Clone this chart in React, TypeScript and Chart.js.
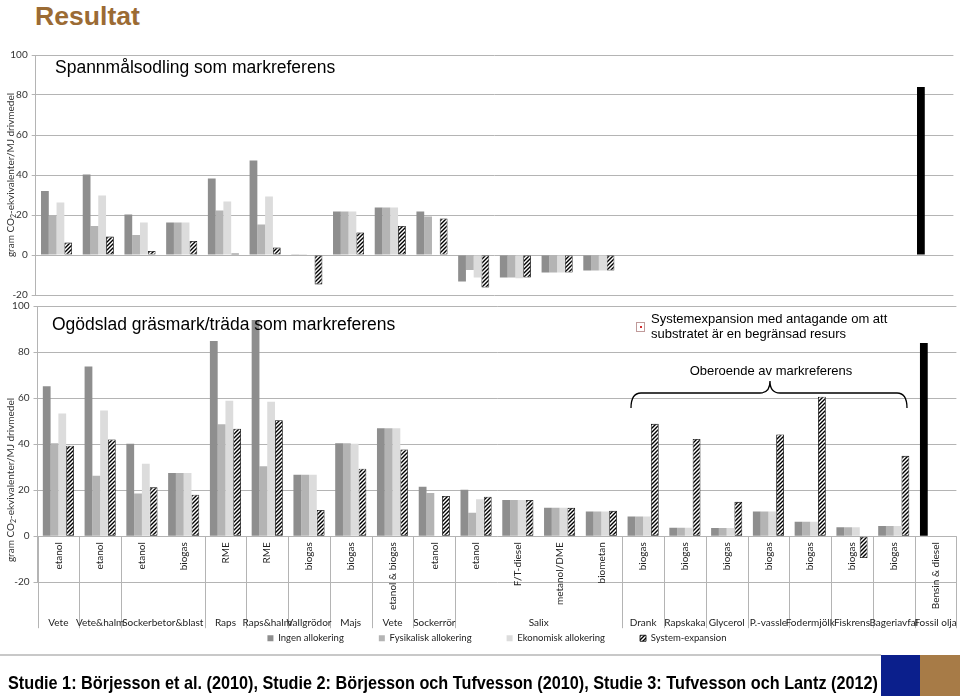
import React, { useEffect, useRef } from "react";
import { Chart, registerables } from "chart.js";

Chart.register(...registerables);

// ---------- data ----------
const fuels = [
  "etanol", "etanol", "etanol", "biogas", "RME", "RME", "biogas", "biogas",
  "etanol & biogas", "etanol", "etanol", "F/T-diesel", "metanol/DME", "biometan",
  "biogas", "biogas", "biogas", "biogas", "biogas", "biogas", "biogas", "Bensin & diesel",
];
const crops = [
  "Vete", "Vete&halm", "Sockerbetor&blast", "Raps", "Raps&halm", "Vallgrödor", "Majs",
  "Vete", "Sockerrör", "Salix", "Drank", "Rapskaka", "Glycerol", "P.-vassle",
  "Fodermjölk", "Fiskrens", "Bageriavfal", "Fossil olja",
];
const cropSpans = [1, 1, 2, 1, 1, 1, 1, 1, 1, 4, 1, 1, 1, 1, 1, 1, 1, 1];
const seriesNames = ["Ingen allokering", "Fysikalisk allokering", "Ekonomisk allokering", "System-expansion"];
const fossilFuel = "Bensin & diesel";
const yTicks = [-20, 0, 20, 40, 60, 80, 100];

// Spannmålsodling som markreferens
const topIngen = [32, 40.3, 20.3, 16.2, 38.3, 47.3, 0.4, 21.7, 23.7, 21.7, -13.3, -11.3, -8.8, -7.8, null, null, null, null, null, null, null, 84];
const topFysikalisk = [20, 14.5, 10, 16.2, 22.2, 15.3, 0.4, 21.7, 23.7, 19.2, -7.5, -11.3, -8.8, -7.8, null, null, null, null, null, null, null, null];
const topEkonomisk = [26.3, 29.7, 16.2, 16.2, 26.7, 29.2, 0.3, 21.7, 23.7, null, -11.3, -11.6, -8.8, -7.8, null, null, null, null, null, null, null, null];
const topSystem = [6.2, 9.2, 2, 7, 0.8, 3.7, -14.7, 11.2, 14.5, 18.3, -16.3, -11.3, -8.8, -7.8, null, null, null, null, null, null, null, null];

// Ogödslad gräsmark/träda som markreferens
const bottomIngen = [65.1, 73.7, 40.1, 27.4, 84.8, 93.9, 26.7, 40.4, 46.9, 21.5, 20.2, 15.7, 12.3, 10.7, 8.5, 3.7, 3.6, 10.7, 6.3, 3.9, 4.4, 83.9];
const bottomFysikalisk = [40.4, 26.3, 18.5, 27.4, 48.6, 30.4, 26.7, 40.4, 46.9, 18.8, 10.2, 15.7, 12.3, 10.7, 8.5, 3.7, 3.6, 10.7, 6.3, 3.9, 4.4, null];
const bottomEkonomisk = [53.3, 54.6, 31.5, 27.4, 58.8, 58.4, 26.7, 40.1, 46.9, null, 16.0, 15.7, 12.3, 10.7, 8.5, 3.7, 3.6, 10.7, 6.3, 3.9, 4.4, null];
const bottomSystem = [39.3, 42.0, 21.2, 18.0, 46.7, 50.4, 11.4, 29.3, 37.7, 17.5, 17.1, 15.7, 12.3, 11.0, 48.8, 42.2, 14.9, 44.2, 60.6, -9.5, 34.9, null];

const footerText = "Studie 1: Börjesson et al. (2010), Studie 2: Börjesson och Tufvesson (2010), Studie 3: Tufvesson och Lantz (2012)";

// ---------- styles ----------
const FONT_UI = 'Lato, "Open Sans", sans-serif';
const FONT_ARIAL = '"Liberation Sans", Arial, sans-serif';
const INGEN_COLOR = "#8e8e8e";
const FYS_COLOR = "#b4b4b4";
const EKO_COLOR = "#dcdcdc";
const FOSSIL_COLOR = "#000000";
const GRID = "#b4b4b4";
const TEXT = "#222";
const FOOTER_WIDTH = 870;

// group centers / boundaries derived from spans
const cropCenters: number[] = [];
const cropBounds: number[] = [];
{
  let cursor = 0;
  cropSpans.forEach((s) => {
    cropBounds.push(cursor - 0.5);
    cropCenters.push(cursor + (s - 1) / 2);
    cursor += s;
  });
  cropBounds.push(cursor - 0.5);
}

function makeHatch(): CanvasPattern | string {
  const tile = document.createElement("canvas");
  tile.width = 4;
  tile.height = 4;
  const c = tile.getContext("2d");
  if (!c) return "#555";
  c.fillStyle = "#fff";
  c.fillRect(0, 0, 4, 4);
  c.strokeStyle = "#000";
  c.lineWidth = 1.4;
  c.beginPath();
  c.moveTo(0, 4); c.lineTo(4, 0);
  c.moveTo(-1, 1); c.lineTo(1, -1);
  c.moveTo(3, 5); c.lineTo(5, 3);
  c.stroke();
  return c.createPattern(tile, "repeat") || "#555";
}

function datasets(ingen: any[], fys: any[], eko: any[], sys: any[], hatch: any) {
  const common = { xAxisID: "x", yAxisID: "y", barPercentage: 1, categoryPercentage: 0.745 };
  return [
    { ...common, label: seriesNames[0], data: ingen, borderWidth: 0,
      backgroundColor: fuels.map((f) => (f === fossilFuel ? FOSSIL_COLOR : INGEN_COLOR)) },
    { ...common, label: seriesNames[1], data: fys, borderWidth: 0, backgroundColor: FYS_COLOR },
    { ...common, label: seriesNames[2], data: eko, borderWidth: 0, backgroundColor: EKO_COLOR },
    { ...common, label: seriesNames[3], data: sys, backgroundColor: hatch, borderColor: "#000",
      borderWidth: 0.8, borderSkipped: false },
  ];
}

function yScale(width: number) {
  return {
    type: "linear",
    min: yTicks[0],
    max: yTicks[yTicks.length - 1],
    afterBuildTicks: (s: any) => { s.ticks = yTicks.map((v) => ({ value: v })); },
    afterFit: (s: any) => { s.width = width; },
    grid: { color: GRID, lineWidth: 1, tickLength: 4, drawTicks: true },
    border: { display: true, color: GRID, width: 1 },
    ticks: { padding: 4, color: "#333", font: { family: FONT_UI, size: 10 } },
  };
}

// second-level category labels (crop) and their divider lines, placed with the x scale
const cropPlugin = {
  id: "cropGroups",
  beforeDatasetsDraw(chart: any) {
    const xs = chart.scales.x;
    const ys = chart.scales.y;
    const ctx = chart.ctx;
    const y0 = ys.getPixelForValue(0);
    const y1 = ys.getPixelForValue(yTicks[0]) + 46;
    ctx.save();
    ctx.strokeStyle = GRID;
    ctx.lineWidth = 1;
    cropBounds.forEach((b) => {
      const x = Math.round(xs.getPixelForValue(b)) + 0.5;
      ctx.beginPath();
      ctx.moveTo(x, y0);
      ctx.lineTo(x, y1);
      ctx.stroke();
    });
    ctx.restore();
  },
  afterDraw(chart: any) {
    const xs = chart.scales.x;
    const ys = chart.scales.y;
    const ctx = chart.ctx;
    const y = ys.getPixelForValue(yTicks[0]) + 41;
    ctx.save();
    ctx.font = `10px ${FONT_UI}`;
    ctx.fillStyle = TEXT;
    ctx.textAlign = "center";
    ctx.textBaseline = "middle";
    crops.forEach((c, i) => ctx.fillText(c, xs.getPixelForValue(cropCenters[i]), y));
    ctx.restore();
  },
};

export default function App() {
  const topRef = useRef<HTMLCanvasElement>(null);
  const bottomRef = useRef<HTMLCanvasElement>(null);
  const footRef = useRef<HTMLDivElement>(null);

  useEffect(() => {
    const el = footRef.current;
    if (el) {
      el.style.transform = "none";
      const w = el.getBoundingClientRect().width;
      if (w > 0) el.style.transform = `scaleX(${FOOTER_WIDTH / w})`;
    }
    const hatch = makeHatch();
    const top = new Chart(topRef.current as HTMLCanvasElement, {
      type: "bar",
      data: { labels: fuels, datasets: datasets(topIngen, topFysikalisk, topEkonomisk, topSystem, hatch) as any },
      options: {
        animation: false,
        responsive: false,
        maintainAspectRatio: false,
        layout: { padding: { top: 3.4, right: 6.6, bottom: 0.6, left: 0 } },
        plugins: { legend: { display: false }, tooltip: { enabled: false } },
        scales: {
          x: { type: "category", display: false, offset: true, grid: { display: false } },
          y: yScale(35.7) as any,
        },
      },
    });

    const bottom = new Chart(bottomRef.current as HTMLCanvasElement, {
      type: "bar",
      data: { labels: fuels, datasets: datasets(bottomIngen, bottomFysikalisk, bottomEkonomisk, bottomSystem, hatch) as any },
      options: {
        animation: false,
        responsive: false,
        maintainAspectRatio: false,
        layout: { padding: { top: 4.1, right: 3.6, bottom: 0, left: 0 } },
        plugins: {
          tooltip: { enabled: false },
          legend: {
            display: true,
            position: "bottom",
            fullSize: false,
            maxHeight: 56,
            labels: { boxWidth: 6, boxHeight: 6, padding: 35, color: TEXT, font: { family: FONT_UI, size: 9.5 } },
          },
        },
        scales: {
          x: {
            type: "category",
            position: { y: 0 } as any,
            offset: true,
            grid: { display: false, drawTicks: false },
            border: { display: false },
            ticks: { autoSkip: false, minRotation: 90, maxRotation: 90, padding: 6, color: TEXT, font: { family: FONT_UI, size: 10 } },
            afterFit: (s: any) => { s.height = 0; s.paddingLeft = 0; s.paddingRight = 0; },
          },
          // spacer that reserves the band for the crop labels under the plot
          x2: {
            type: "linear",
            position: "bottom",
            min: -0.5,
            max: fuels.length - 0.5,
            grid: { display: false, drawTicks: false },
            border: { display: false },
            ticks: { display: false },
            afterFit: (s: any) => { s.height = 16.3; s.paddingLeft = 0; s.paddingRight = 0; },
          } as any,
          y: yScale(37.5) as any,
        },
      },
      plugins: [cropPlugin],
    });

    return () => {
      top.destroy();
      bottom.destroy();
    };
  }, []);

  const yTitle = (cy: number) => (
    <div
      style={{
        position: "absolute", left: -90, top: cy - 6, width: 200, height: 12, lineHeight: "12px",
        textAlign: "center", transform: "rotate(-90deg)", fontFamily: FONT_UI, fontSize: 10, color: "#333",
        whiteSpace: "nowrap",
      }}
    >
      gram CO<sub style={{ fontSize: 7, verticalAlign: "-2px", lineHeight: 0 }}>2</sub>-ekvivalenter/MJ drivmedel
    </div>
  );

  return (
    <div style={{ position: "absolute", left: 0, top: 0, width: 960, height: 696, overflow: "hidden", background: "#fff", fontFamily: FONT_ARIAL }}>
      <canvas ref={topRef} width={960} height={260} style={{ position: "absolute", left: 0, top: 45, width: 960, height: 260 }} />
      <canvas ref={bottomRef} width={960} height={357} style={{ position: "absolute", left: 0, top: 296, width: 960, height: 357 }} />

      <div style={{ position: "absolute", left: 35, top: 2.5, fontSize: 26.6, lineHeight: 1, fontWeight: "bold", color: "#9b6b34", whiteSpace: "nowrap" }}>
        Resultat
      </div>
      <div style={{ position: "absolute", left: 55, top: 59.2, fontSize: 17.5, lineHeight: 1, color: "#000", whiteSpace: "nowrap" }}>
        Spannmålsodling som markreferens
      </div>
      <div style={{ position: "absolute", left: 52, top: 315.7, fontSize: 17.5, lineHeight: 1, color: "#000", whiteSpace: "nowrap" }}>
        Ogödslad gräsmark/träda som markreferens
      </div>

      <div style={{ position: "absolute", left: 636, top: 322, width: 7, height: 8, border: "1px solid #c09a9a", background: "#fff" }}>
        <div style={{ position: "absolute", left: 2.5, top: 3, width: 2, height: 2, background: "#d03030" }} />
      </div>
      <div style={{ position: "absolute", left: 651, top: 311.3, fontSize: 13, lineHeight: "15px", color: "#000", whiteSpace: "nowrap" }}>
        Systemexpansion med antagande om att<br />substratet är en begränsad resurs
      </div>
      <div style={{ position: "absolute", left: 671, top: 364, width: 200, textAlign: "center", fontSize: 13, lineHeight: 1, color: "#000", whiteSpace: "nowrap" }}>
        Oberoende av markreferens
      </div>
      <svg width={960} height={696} style={{ position: "absolute", left: 0, top: 0, pointerEvents: "none" }}>
        <path d="M631,408 Q631,393 641,393 L760,393 Q770,393 770,381 Q770,393 780,393 L897,393 Q907,393 907,408" fill="none" stroke="#000" strokeWidth={1.3} />
      </svg>

      {yTitle(175)}
      {yTitle(480)}

      <div style={{ position: "absolute", left: 0, top: 654, width: 881, height: 2, background: "#c8c8c8" }} />
      <div style={{ position: "absolute", left: 881, top: 655, width: 39, height: 41, background: "#0b1f8c" }} />
      <div style={{ position: "absolute", left: 920, top: 655, width: 40, height: 41, background: "#a77b47" }} />
      <div
        ref={footRef}
        style={{ position: "absolute", left: 8, top: 673, fontSize: 19, lineHeight: 1, fontWeight: "bold", color: "#000", whiteSpace: "nowrap", transformOrigin: "0 50%", fontFamily: FONT_ARIAL }}
      >
        {footerText}
      </div>
    </div>
  );
}
